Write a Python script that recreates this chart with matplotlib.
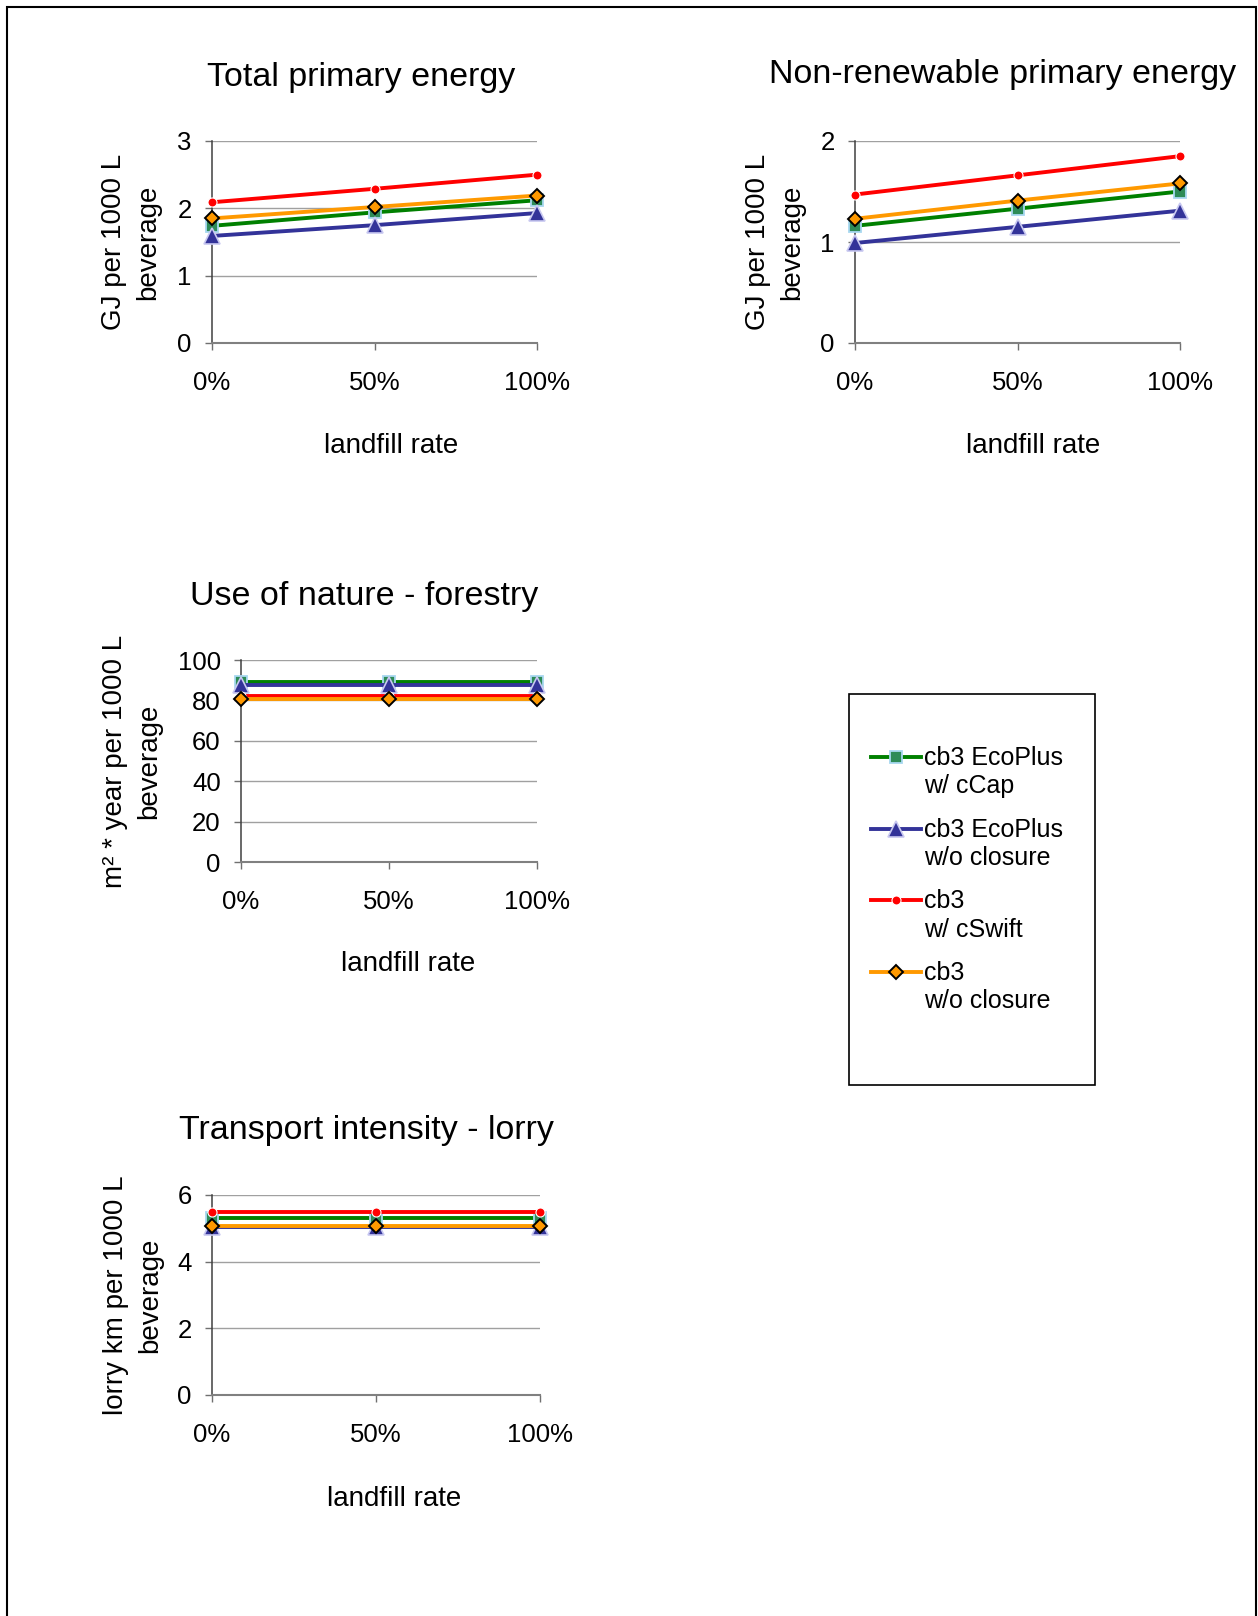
import numpy as np
import matplotlib
matplotlib.use("Agg")
import matplotlib.pyplot as plt
from matplotlib.lines import Line2D
from matplotlib.patches import Rectangle
from matplotlib.legend_handler import HandlerLine2D

plt.rcParams['font.family'] = ['Liberation Sans', 'DejaVu Sans']

W, H = 1258, 1616

# landfill scenarios on the x axis
landfill = ['0%', '50%', '100%']
series_names = ['cb3 EcoPlus\nw/ cCap', 'cb3 EcoPlus\nw/o closure',
                'cb3\nw/ cSwift', 'cb3\nw/o closure']

# series order: EcoPlus w/ cCap, EcoPlus w/o closure, cb3 w/ cSwift, cb3 w/o closure
total_primary = [[1.74, 1.94, 2.12],
                 [1.59, 1.75, 1.93],
                 [2.09, 2.29, 2.50],
                 [1.85, 2.02, 2.19]]
nonrenewable = [[1.16, 1.33, 1.50],
                [0.99, 1.15, 1.31],
                [1.47, 1.66, 1.85],
                [1.23, 1.41, 1.58]]
forestry = [[88.9, 88.9, 88.9],
            [87.7, 87.7, 87.7],
            [82.3, 82.3, 82.3],
            [80.8, 80.8, 80.8]]
lorry = [[5.30, 5.30, 5.30],
         [5.04, 5.04, 5.04],
         [5.48, 5.48, 5.48],
         [5.07, 5.07, 5.07]]

styles = [
    dict(color='#008000', marker='s', mfc='#2E8B57', mec='#A8D8F0', ms=8, mew=1.3),
    dict(color='#333399', marker='^', mfc='#333399', mec='#C8C8F0', ms=11.5, mew=1.2),
    dict(color='#FF0000', marker='o', mfc='#FF0000', mec='white', ms=6.5, mew=0.8),
    dict(color='#FF9900', marker='D', mfc='#FF9900', mec='black', ms=7.5, mew=1.4),
]

# layout in pixels: axes box (left, top, right, bottom) and text anchors
panels = [
    dict(box=(212, 141, 537, 343), data=total_primary, ymax=3, step=1,
         title='Total primary energy', title_at=(361, 86),
         ylabel='GJ per 1000 L\nbeverage', ylabel_x=131, xlabel_at=(391, 446)),
    dict(box=(855, 141, 1180, 343), data=nonrenewable, ymax=2, step=1,
         title='Non-renewable primary energy', title_at=(1003, 83),
         ylabel='GJ per 1000 L\nbeverage', ylabel_x=775, xlabel_at=(1033, 446)),
    dict(box=(241, 660, 537, 862), data=forestry, ymax=100, step=20,
         title='Use of nature - forestry', title_at=(364, 605),
         ylabel='m² * year per 1000 L\nbeverage', ylabel_x=132, xlabel_at=(408, 964)),
    dict(box=(212, 1195, 540, 1395), data=lorry, ymax=6, step=2,
         title='Transport intensity - lorry', title_at=(366, 1139),
         ylabel='lorry km per 1000 L\nbeverage', ylabel_x=133, xlabel_at=(394, 1499)),
]


class FirstLineHandler(HandlerLine2D):
    """Puts the legend handle level with the first line of a two-line label."""
    def __init__(self, shift, **kw):
        super().__init__(**kw)
        self.shift = shift

    def create_artists(self, legend, orig_handle, xdescent, ydescent,
                       width, height, fontsize, trans):
        artists = super().create_artists(legend, orig_handle, xdescent, ydescent,
                                         width, height, fontsize, trans)
        for a in artists:
            a.set_ydata(np.asarray(a.get_ydata()) + self.shift)
        return artists


fig = plt.figure(figsize=(W / 100, H / 100), dpi=100)

x = np.arange(len(landfill))
handles = None
for p in panels:
    l, t, r, b = p['box']
    ax = fig.add_axes([l / W, 1 - b / H, (r - l) / W, (b - t) / H])

    def fx(px):
        return (px - l) / (r - l)

    def fy(py):
        return (b - py) / (b - t)

    lines = []
    for vals, st in zip(p['data'], styles):
        ln, = ax.plot(x, vals, lw=2.8, clip_on=False, zorder=3, **st)
        lines.append(ln)
    if handles is None:
        handles = lines

    ax.set_xlim(0, len(landfill) - 1)
    ax.set_ylim(0, p['ymax'])
    ax.set_xticks(x)
    ax.set_xticklabels(landfill)
    ax.set_yticks(np.arange(0, p['ymax'] + p['step'] / 2, p['step']))
    ax.yaxis.grid(True, color='#a0a0a0', lw=1.0)
    ax.set_axisbelow(True)

    for s in ['top', 'right']:
        ax.spines[s].set_visible(False)
    ax.spines['left'].set_color('#404040')
    ax.spines['left'].set_linewidth(1.1)
    ax.spines['bottom'].set_color('#808080')
    ax.spines['bottom'].set_linewidth(1.5)

    ax.tick_params(axis='both', direction='out', length=5, width=1,
                   color='#707070', labelsize=18.5)
    ax.tick_params(axis='y', pad=9.5)
    ax.tick_params(axis='x', pad=15)

    ax.set_title(p['title'], fontsize=24.5, x=fx(p['title_at'][0]),
                 y=fy(p['title_at'][1]), va='baseline', pad=0)

    ax.set_xlabel('landfill rate', fontsize=20)
    ax.xaxis.label.set_va('center')
    ax.xaxis.set_label_coords(fx(p['xlabel_at'][0]), fy(p['xlabel_at'][1]))

    ax.set_ylabel(p['ylabel'], fontsize=20, linespacing=1.42)
    ax.yaxis.label.set_va('center')
    ax.yaxis.set_label_coords(fx(p['ylabel_x']), 0.5)

# legend box on the right
fig.add_artist(Rectangle((849 / W, 1 - 1085 / H), (1095 - 849) / W, (1085 - 694) / H,
                         transform=fig.transFigure, fill=False, ec='black', lw=1.2))
leg = fig.legend(handles, series_names, loc='upper left',
                 bbox_to_anchor=(871 / W, 1 - 746 / H), frameon=False,
                 fontsize=18, handlelength=2.0, handletextpad=0.12,
                 borderpad=0, borderaxespad=0, labelspacing=0.78, numpoints=1,
                 handler_map={Line2D: FirstLineHandler(11.5)})
for txt in leg.get_texts():
    txt.set_linespacing(1.22)

# frame around the whole page
fig.add_artist(Rectangle((7 / W, -0.02), (1256 - 7) / W, 1.02 - 7 / H,
                         transform=fig.transFigure, fill=False, ec='black', lw=1.5))

fig.savefig('out.png', dpi=100)
